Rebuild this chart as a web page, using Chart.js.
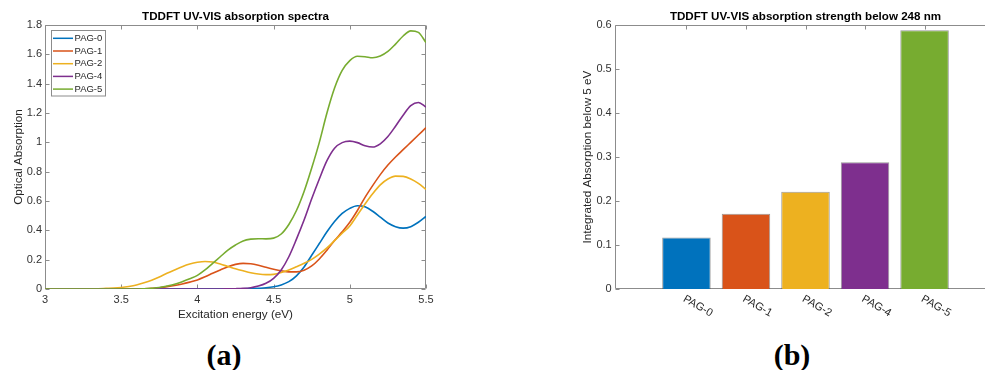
<!DOCTYPE html>
<html>
<head>
<meta charset="utf-8">
<title>TDDFT UV-VIS absorption</title>
<script src="https://cdn.jsdelivr.net/npm/chart.js@4/dist/chart.umd.min.js"></script>
<style>
  html, body { margin: 0; padding: 0; background: #fff; overflow: hidden; }
  body { width: 985px; height: 370px; position: relative; }
  canvas { position: absolute; top: 0; }
  #spectraChart { left: 0; }
  #strengthChart { left: 560px; }
  .tag { position: absolute; top: 338px; width: 80px; text-align: center; line-height: 30px;
         font: bold 30px "Liberation Serif", "Times New Roman", serif; color: #000; }
</style>
</head>
<body>
<canvas id="spectraChart" width="440" height="330"></canvas>
<canvas id="strengthChart" width="440" height="330"></canvas>
<div class="tag" style="left:184px">(a)</div>
<div class="tag" style="left:752px">(b)</div>
<script>
// (a) spectra, sampled every 0.05 eV
const energy = [3.00, 3.05, 3.10, 3.15, 3.20, 3.25, 3.30, 3.35, 3.40, 3.45,
    3.50, 3.55, 3.60, 3.65, 3.70, 3.75, 3.80, 3.85, 3.90, 3.95,
    4.00, 4.05, 4.10, 4.15, 4.20, 4.25, 4.30, 4.35, 4.40, 4.45,
    4.50, 4.55, 4.60, 4.65, 4.70, 4.75, 4.80, 4.85, 4.90, 4.95,
    5.00, 5.05, 5.10, 5.15, 5.20, 5.25, 5.30, 5.35, 5.40, 5.45, 5.50];

const pag0 = [0, 0, 0, 0, 0, 0, 0, 0, 0, 0, 0, 0, 0, 0, 0, 0, 0, 0, 0, 0, 0, 0, 0, 0, 0, 0,
    0.002, 0.003, 0.005, 0.008, 0.015, 0.028, 0.05, 0.09, 0.15, 0.23, 0.31, 0.39, 0.46, 0.515,
    0.55, 0.568, 0.56, 0.53, 0.49, 0.45, 0.425, 0.415, 0.425, 0.455, 0.495];
const pag1 = [0, 0, 0, 0, 0, 0, 0, 0, 0, 0, 0, 0, 0,
    0.002, 0.005, 0.009, 0.016, 0.024, 0.034, 0.047, 0.062, 0.083, 0.107, 0.13, 0.152, 0.168,
    0.175, 0.172, 0.162, 0.148, 0.135, 0.124, 0.117, 0.117, 0.128, 0.157, 0.205, 0.265, 0.33,
    0.39, 0.455, 0.535, 0.625, 0.705, 0.78, 0.845, 0.9, 0.95, 1.0, 1.05, 1.1];
const pag2 = [0, 0, 0, 0, 0, 0,
    0.001, 0.002, 0.004, 0.006, 0.01, 0.017, 0.027, 0.042, 0.06, 0.082, 0.107, 0.13, 0.152, 0.17,
    0.182, 0.188, 0.184, 0.17, 0.154, 0.138, 0.124, 0.111, 0.102, 0.098, 0.1, 0.112, 0.13, 0.152,
    0.175, 0.202, 0.238, 0.28, 0.33, 0.38, 0.43, 0.505, 0.58, 0.65, 0.71, 0.75, 0.77, 0.768,
    0.75, 0.72, 0.68];
const pag4 = [0, 0, 0, 0, 0, 0, 0, 0, 0, 0, 0, 0, 0, 0, 0, 0, 0, 0, 0, 0, 0, 0, 0, 0,
    0.001, 0.002, 0.004, 0.009, 0.02, 0.039, 0.073, 0.13, 0.22, 0.34, 0.47, 0.615, 0.75, 0.875,
    0.96, 0.998, 1.008, 0.998, 0.977, 0.968, 0.99, 1.04, 1.11, 1.185, 1.25, 1.272, 1.24];
const pag5 = [0, 0, 0, 0, 0, 0, 0, 0, 0, 0, 0, 0, 0,
    0.002, 0.005, 0.01, 0.02, 0.032, 0.05, 0.07, 0.093, 0.13, 0.175, 0.22, 0.265, 0.30,
    0.328, 0.34, 0.343, 0.342, 0.347, 0.375, 0.44, 0.535, 0.665, 0.825, 1.0, 1.2, 1.37,
    1.49, 1.557, 1.587, 1.584, 1.577, 1.589, 1.62, 1.67, 1.725, 1.76, 1.75, 1.68];

const seriesNames = ['PAG-0', 'PAG-1', 'PAG-2', 'PAG-4', 'PAG-5'];
const seriesData = [pag0, pag1, pag2, pag4, pag5];
const seriesColors = ['#0072BD', '#D95319', '#EDB120', '#7E2F8E', '#77AC30'];

const energyTicks = [3, 3.5, 4, 4.5, 5, 5.5];
const absorptionTicks = [0, 0.2, 0.4, 0.6, 0.8, 1, 1.2, 1.4, 1.6, 1.8];

// (b) integrated absorption below 5 eV
const barNames = ['PAG-0', 'PAG-1', 'PAG-2', 'PAG-4', 'PAG-5'];
const barSlots = [1, 2, 3, 4, 5];
const barValues = [0.117, 0.171, 0.221, 0.288, 0.588];
const strengthTicks = [0, 0.1, 0.2, 0.3, 0.4, 0.5, 0.6];

const axisGray = '#8c8c8c';
const textGray = '#262626';
const sansFont = '"Liberation Sans", Arial, sans-serif';

Chart.defaults.font.family = sansFont;
Chart.defaults.color = textGray;

// MATLAB style box with ticks pointing inward
const matlabFrame = {
    id: 'matlabFrame',
    beforeDatasetsDraw(chart) {
        const {ctx, chartArea: a, scales} = chart;
        const left = Math.round(a.left) + 0.5;
        const top = Math.round(a.top) + 0.5;
        const right = Math.round(a.right) - 0.5;
        const bottom = Math.round(a.bottom) - 0.5;
        const len = 4;
        ctx.save();
        ctx.strokeStyle = axisGray;
        ctx.lineWidth = 1;
        ctx.beginPath();
        ctx.rect(left, top, right - left, bottom - top);
        scales.x.ticks.forEach(t => {
            const px = Math.round(scales.x.getPixelForValue(t.value)) + 0.5;
            ctx.moveTo(px, bottom); ctx.lineTo(px, bottom - len);
            ctx.moveTo(px, top); ctx.lineTo(px, top + len);
        });
        scales.y.ticks.forEach(t => {
            const py = Math.round(scales.y.getPixelForValue(t.value)) + 0.5;
            ctx.moveTo(left, py); ctx.lineTo(left + len, py);
            ctx.moveTo(right, py); ctx.lineTo(right - len, py);
        });
        ctx.stroke();
        ctx.restore();
    }
};

// boxed legend in the upper left corner of the plot
const boxLegend = {
    id: 'boxLegend',
    afterDatasetsDraw(chart) {
        const {ctx, chartArea: a} = chart;
        const sets = chart.data.datasets;
        const x0 = Math.round(a.left) + 6;
        const y0 = Math.round(a.top) + 5;
        const rowH = 12.7;
        const w = 54;
        const h = sets.length * rowH + 2;
        ctx.save();
        ctx.fillStyle = '#fff';
        ctx.fillRect(x0, y0, w, h);
        ctx.strokeStyle = axisGray;
        ctx.lineWidth = 1;
        ctx.strokeRect(x0 + 0.5, y0 + 0.5, w, h);
        ctx.font = '9.5px ' + sansFont;
        ctx.textBaseline = 'middle';
        ctx.textAlign = 'left';
        sets.forEach((ds, i) => {
            const cy = y0 + 8.3 + i * rowH;
            ctx.strokeStyle = ds.borderColor;
            ctx.lineWidth = 1.5;
            ctx.beginPath();
            ctx.moveTo(x0 + 2, cy);
            ctx.lineTo(x0 + 22, cy);
            ctx.stroke();
            ctx.fillStyle = textGray;
            ctx.fillText(ds.label, x0 + 23.5, cy);
        });
        ctx.restore();
    }
};

// category names drawn slanted downwards, like XTickLabelRotation = -30
const slantLabels = {
    id: 'slantLabels',
    afterDraw(chart) {
        const {ctx, chartArea: a, scales: {x}} = chart;
        ctx.save();
        ctx.font = '11px ' + sansFont;
        ctx.fillStyle = textGray;
        ctx.textAlign = 'left';
        ctx.textBaseline = 'middle';
        barNames.forEach((name, i) => {
            ctx.save();
            ctx.translate(x.getPixelForValue(barSlots[i]) - 2.5, a.bottom + 9);
            ctx.rotate(Math.PI / 6);
            ctx.fillText(name, 0, 0);
            ctx.restore();
        });
        ctx.restore();
    }
};

function fixedTicks(list) {
    return scale => { scale.ticks = list.map(v => ({value: v})); };
}

new Chart(document.getElementById('spectraChart'), {
    type: 'line',
    data: {
        datasets: seriesNames.map((name, i) => ({
            label: name,
            data: energy.map((e, j) => ({x: e, y: seriesData[i][j]})),
            borderColor: seriesColors[i],
            borderWidth: 1.6,
            pointRadius: 0,
            cubicInterpolationMode: 'monotone',
            fill: false,
            order: seriesNames.length - i
        }))
    },
    options: {
        responsive: false,
        animation: false,
        events: [],
        layout: { padding: { left: 0, right: 14, top: 0, bottom: 0 } },
        plugins: {
            legend: { display: false },
            tooltip: { enabled: false },
            title: {
                display: true,
                text: 'TDDFT UV-VIS absorption spectra',
                fullSize: false,
                color: '#000',
                font: { size: 11.6, weight: 'bold' },
                padding: { top: 9.7, bottom: 1.4 }
            }
        },
        scales: {
            x: {
                type: 'linear',
                min: 3,
                max: 5.5,
                afterBuildTicks: fixedTicks(energyTicks),
                afterFit: scale => { scale.height = 41; },
                grid: { display: false, drawTicks: false },
                border: { display: false },
                ticks: { font: { size: 11 }, color: '#333', padding: 4, maxRotation: 0,
                         callback: v => String(v) },
                title: { display: true, text: 'Excitation energy (eV)', color: textGray,
                         font: { size: 11.7 }, padding: { top: 0, bottom: 8.7 } }
            },
            y: {
                min: 0,
                max: 1.8,
                afterBuildTicks: fixedTicks(absorptionTicks),
                afterFit: scale => { scale.width = 45; },
                grid: { display: false, drawTicks: false },
                border: { display: false },
                ticks: { font: { size: 11 }, color: '#333', padding: 3,
                         callback: v => String(v) },
                title: { display: true, text: 'Optical Absorption', color: textGray,
                         font: { size: 11.7 }, padding: { top: 11.3, bottom: 0 } }
            }
        }
    },
    plugins: [matlabFrame, boxLegend]
});

new Chart(document.getElementById('strengthChart'), {
    type: 'bar',
    data: {
        datasets: [{
            label: 'Integrated absorption',
            data: barSlots.map((s, i) => ({x: s, y: barValues[i]})),
            backgroundColor: seriesColors,
            borderColor: 'rgba(70, 70, 70, 0.55)',
            borderWidth: 1,
            barPercentage: 1,
            categoryPercentage: 0.815
        }]
    },
    options: {
        responsive: false,
        animation: false,
        events: [],
        layout: { padding: { left: 0, right: 4, top: 0, bottom: 0 } },
        plugins: {
            legend: { display: false },
            tooltip: { enabled: false },
            title: {
                display: true,
                text: 'TDDFT UV-VIS absorption strength below 248 nm',
                fullSize: false,
                color: '#000',
                font: { size: 11.6, weight: 'bold' },
                padding: { top: 9.7, bottom: 1.4 }
            }
        },
        scales: {
            x: {
                type: 'linear',
                offset: false,
                min: -0.2,
                max: 6.2,
                afterBuildTicks: fixedTicks(barSlots),
                afterFit: scale => { scale.height = 41; },
                grid: { display: false, drawTicks: false },
                border: { display: false },
                ticks: { display: false }
            },
            y: {
                min: 0,
                max: 0.6,
                afterBuildTicks: fixedTicks(strengthTicks),
                afterFit: scale => { scale.width = 55; },
                grid: { display: false, drawTicks: false },
                border: { display: false },
                ticks: { font: { size: 11 }, color: '#333', padding: 3.3,
                         callback: v => String(v) },
                title: { display: true, text: 'Integrated Absorption below 5 eV', color: textGray,
                         font: { size: 11.7 }, padding: { top: 21, bottom: 0 } }
            }
        }
    },
    plugins: [matlabFrame, slantLabels]
});
</script>
</body>
</html>
